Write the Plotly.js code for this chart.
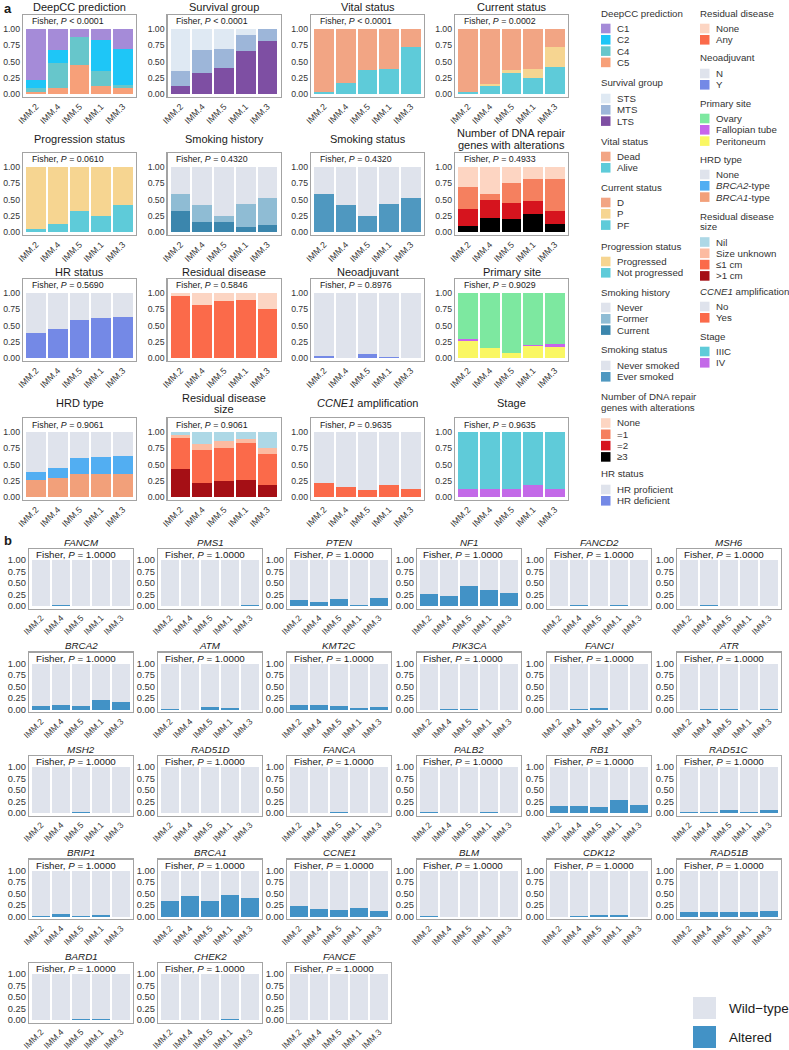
<!DOCTYPE html>
<html><head><meta charset="utf-8">
<script src="https://cdn.plot.ly/plotly-3.0.1.min.js"></script>
<style>html,body{margin:0;padding:0;background:#fff}</style>
</head><body><div id="chart" style="width:789px;height:1050px"></div>
<script>
// ---------------- DATA ----------------
const clusters = ['IMM.2','IMM.4','IMM.5','IMM.1','IMM.3'];

// Panel a (values listed bottom -> top of each stack)
const deepccC5 = [0.03, 0.09, 0.44, 0.13, 0.10];
const deepccC4 = [0.055, 0.38, 0.44, 0.22, 0.04];
const deepccC2 = [0.135, 0.20, 0.00, 0.48, 0.55];
const deepccC1 = [0.78, 0.33, 0.12, 0.17, 0.31];

const survLTS = [0.13, 0.33, 0.405, 0.66, 0.82];
const survMTS = [0.22, 0.34, 0.285, 0.25, 0.18];
const survSTS = [0.65, 0.33, 0.31, 0.09, 0.00];

const vitalAlive = [0.03, 0.17, 0.37, 0.38, 0.73];
const vitalDead  = [0.97, 0.83, 0.63, 0.62, 0.27];

const currPF = [0.03, 0.12, 0.33, 0.25, 0.41];
const currP  = [0.00, 0.04, 0.04, 0.13, 0.32];
const currD  = [0.97, 0.84, 0.63, 0.62, 0.27];

const progNot = [0.05, 0.13, 0.33, 0.25, 0.41];
const progYes = [0.95, 0.87, 0.67, 0.75, 0.59];

const smokeHistCurrent = [0.33, 0.16, 0.15, 0.08, 0.11];
const smokeHistFormer  = [0.26, 0.26, 0.09, 0.35, 0.42];
const smokeHistNever   = [0.41, 0.58, 0.76, 0.57, 0.47];

const smokeEver  = [0.59, 0.42, 0.24, 0.43, 0.53];
const smokeNever = [0.41, 0.58, 0.76, 0.57, 0.47];

const dnaGe3  = [0.09, 0.21, 0.20, 0.28, 0.13];
const dnaEq2  = [0.26, 0.29, 0.24, 0.19, 0.19];
const dnaEq1  = [0.35, 0.09, 0.32, 0.34, 0.50];
const dnaNone = [0.30, 0.41, 0.24, 0.19, 0.18];

const hrDef  = [0.385, 0.45, 0.59, 0.615, 0.63];
const hrProf = [0.615, 0.55, 0.41, 0.385, 0.37];

const resAny  = [0.95, 0.82, 0.87, 0.90, 0.76];
const resNone = [0.05, 0.18, 0.13, 0.10, 0.24];

const neoY = [0.036, 0.00, 0.067, 0.02, 0.00];
const neoN = [0.964, 1.00, 0.933, 0.98, 1.00];

const sitePerit  = [0.26, 0.15, 0.07, 0.18, 0.175];
const siteFallop = [0.04, 0.00, 0.00, 0.025, 0.045];
const siteOvary  = [0.70, 0.85, 0.93, 0.795, 0.78];

const hrdBRCA1 = [0.26, 0.285, 0.35, 0.36, 0.35];
const hrdBRCA2 = [0.13, 0.165, 0.25, 0.26, 0.285];
const hrdNone  = [0.61, 0.55, 0.40, 0.38, 0.365];

const rsGt1     = [0.43, 0.215, 0.25, 0.26, 0.19];
const rsLe1     = [0.48, 0.515, 0.50, 0.57, 0.47];
const rsUnknown = [0.04, 0.09, 0.11, 0.07, 0.095];
const rsNil     = [0.05, 0.18, 0.14, 0.10, 0.245];

const ccneYes = [0.21, 0.16, 0.11, 0.18, 0.13];
const ccneNo  = [0.79, 0.84, 0.89, 0.82, 0.87];

const stageIV   = [0.12, 0.13, 0.12, 0.19, 0.13];
const stageIIIC = [0.88, 0.87, 0.88, 0.81, 0.87];

const panelATitles = ['DeepCC prediction','Survival group','Vital status','Current status',
  'Progression status','Smoking history','Smoking status','Number of DNA repair<br>genes with alterations',
  'HR status','Residual disease','Neoadjuvant','Primary site',
  'HRD type','Residual disease<br>size','<i>CCNE1</i> amplification','Stage'];
const panelAP = ['< 0.0001','< 0.0001','< 0.0001','= 0.0002',
  '= 0.0610','= 0.4320','= 0.4320','= 0.4933',
  '= 0.5690','= 0.5846','= 0.8976','= 0.9029',
  '= 0.9061','= 0.9061','= 0.9635','= 0.9635'];

// Panel b: altered fraction per gene
const geneNames = ['FANCM','PMS1','PTEN','NF1','FANCD2','MSH6',
  'BRCA2','ATM','KMT2C','PIK3CA','FANCI','ATR',
  'MSH2','RAD51D','FANCA','PALB2','RB1','RAD51C',
  'BRIP1','BRCA1','CCNE1','BLM','CDK12','RAD51B',
  'BARD1','CHEK2','FANCE'];
const altFANCM  = [0.00, 0.03, 0.00, 0.00, 0.00];
const altPMS1   = [0.00, 0.00, 0.00, 0.00, 0.02];
const altPTEN   = [0.12, 0.08, 0.15, 0.03, 0.17];
const altNF1    = [0.27, 0.22, 0.44, 0.34, 0.28];
const altFANCD2 = [0.00, 0.02, 0.00, 0.03, 0.00];
const altMSH6   = [0.00, 0.02, 0.00, 0.00, 0.00];
const altBRCA2  = [0.07, 0.10, 0.08, 0.21, 0.17];
const altATM    = [0.02, 0.00, 0.06, 0.04, 0.00];
const altKMT2C  = [0.09, 0.09, 0.08, 0.03, 0.06];
const altPIK3CA = [0.00, 0.02, 0.02, 0.00, 0.00];
const altFANCI  = [0.00, 0.02, 0.03, 0.00, 0.00];
const altATR    = [0.00, 0.02, 0.02, 0.00, 0.02];
const altMSH2   = [0.00, 0.00, 0.03, 0.00, 0.00];
const altRAD51D = [0.00, 0.00, 0.00, 0.00, 0.00];
const altFANCA  = [0.00, 0.00, 0.02, 0.00, 0.00];
const altPALB2  = [0.02, 0.00, 0.00, 0.03, 0.00];
const altRB1    = [0.16, 0.15, 0.14, 0.28, 0.17];
const altRAD51C = [0.02, 0.02, 0.06, 0.03, 0.07];
const altBRIP1  = [0.02, 0.06, 0.02, 0.03, 0.00];
const altBRCA1  = [0.33, 0.45, 0.34, 0.46, 0.40];
const altCCNE1  = [0.22, 0.17, 0.14, 0.18, 0.13];
const altBLM    = [0.02, 0.00, 0.00, 0.00, 0.00];
const altCDK12  = [0.00, 0.02, 0.03, 0.03, 0.00];
const altRAD51B = [0.09, 0.10, 0.10, 0.10, 0.11];
const altBARD1  = [0.00, 0.00, 0.02, 0.02, 0.00];
const altCHEK2  = [0.00, 0.00, 0.00, 0.02, 0.00];
const altFANCE  = [0.00, 0.00, 0.00, 0.00, 0.00];
const geneAltered = [altFANCM,altPMS1,altPTEN,altNF1,altFANCD2,altMSH6,
  altBRCA2,altATM,altKMT2C,altPIK3CA,altFANCI,altATR,
  altMSH2,altRAD51D,altFANCA,altPALB2,altRB1,altRAD51C,
  altBRIP1,altBRCA1,altCCNE1,altBLM,altCDK12,altRAD51B,
  altBARD1,altCHEK2,altFANCE];

// ---------------- STYLE ----------------
const FONT = 'Liberation Sans, Arial, Helvetica, sans-serif';
const GREY = '#dfe3ec';
const COL = {
  C1:'#a58bd8', C2:'#1ec6f7', C4:'#67c6cb', C5:'#f7a079',
  STS:'#dfe9f3', MTS:'#9db6d9', LTS:'#7e4fa3',
  dead:'#f2a584', alive:'#5ecbd9', prog:'#f6d591', P:'#f6d591',
  former:'#8fbcd4', current:'#3b86ad', ever:'#4f98c0',
  dnaNone:'#fdd5c2', dna1:'#f5805f', dna2:'#d6141e', dna3:'#000000',
  hrDef:'#7489e6', resNone:'#fcd5c3', resAny:'#fb6a4a',
  ovary:'#7de8a0', fallop:'#c764eb', perit:'#faf763',
  brca2:'#52aef2', brca1:'#f2a07a',
  nil:'#add8e6', unknown:'#fcbba1', le1:'#fb6a4a', gt1:'#a50f15',
  IIIC:'#5fcbd9', IV:'#c36ae8', altered:'#4292c6'
};

const panelASeries = [
  [[deepccC5,'C5',COL.C5],[deepccC4,'C4',COL.C4],[deepccC2,'C2',COL.C2],[deepccC1,'C1',COL.C1]],
  [[survLTS,'LTS',COL.LTS],[survMTS,'MTS',COL.MTS],[survSTS,'STS',COL.STS]],
  [[vitalAlive,'Alive',COL.alive],[vitalDead,'Dead',COL.dead]],
  [[currPF,'PF',COL.alive],[currP,'P',COL.P],[currD,'D',COL.dead]],
  [[progNot,'Not progressed',COL.alive],[progYes,'Progressed',COL.prog]],
  [[smokeHistCurrent,'Current',COL.current],[smokeHistFormer,'Former',COL.former],[smokeHistNever,'Never',GREY]],
  [[smokeEver,'Ever smoked',COL.ever],[smokeNever,'Never smoked',GREY]],
  [[dnaGe3,'≥3',COL.dna3],[dnaEq2,'=2',COL.dna2],[dnaEq1,'=1',COL.dna1],[dnaNone,'None',COL.dnaNone]],
  [[hrDef,'HR deficient',COL.hrDef],[hrProf,'HR proficient',GREY]],
  [[resAny,'Any',COL.resAny],[resNone,'None',COL.resNone]],
  [[neoY,'Y',COL.hrDef],[neoN,'N',GREY]],
  [[sitePerit,'Peritoneum',COL.perit],[siteFallop,'Fallopian tube',COL.fallop],[siteOvary,'Ovary',COL.ovary]],
  [[hrdBRCA1,'BRCA1-type',COL.brca1],[hrdBRCA2,'BRCA2-type',COL.brca2],[hrdNone,'None',GREY]],
  [[rsGt1,'>1 cm',COL.gt1],[rsLe1,'≤1 cm',COL.le1],[rsUnknown,'Size unknown',COL.unknown],[rsNil,'Nil',COL.nil]],
  [[ccneYes,'Yes',COL.resAny],[ccneNo,'No',GREY]],
  [[stageIV,'IV',COL.IV],[stageIIIC,'IIIC',COL.IIIC]]
];

// ---------------- LAYOUT HELPERS ----------------
const W = 789, H = 1050;
const px = x => x / W;
const py = y => 1 - y / H;
const data = [];
const layout = {
  width: W, height: H, margin: {l:0, r:0, t:0, b:0},
  paper_bgcolor:'#fff', plot_bgcolor:'#fff',
  barmode:'stack', bargap:0.1, showlegend:false,
  font:{family:FONT, color:'#333'},
  annotations:[], shapes:[]
};
let axN = 0;
function addPanel(x0, w, oneY, unit, padTop, padBot, series, tickSize, xTickSize) {
  axN++;
  const xk = axN === 1 ? 'xaxis' : 'xaxis' + axN;
  const yk = axN === 1 ? 'yaxis' : 'yaxis' + axN;
  const xa = axN === 1 ? 'x' : 'x' + axN;
  const ya = axN === 1 ? 'y' : 'y' + axN;
  const top = oneY - padTop, bot = oneY + unit + padBot;
  series.forEach(s => data.push({
    type:'bar', x:clusters, y:s[0], name:s[1], xaxis:xa, yaxis:ya,
    marker:{color:s[2], line:{width:0}}, hoverinfo:'skip'
  }));
  const common = {showline:true, mirror:true, linecolor:'#a3a3a3', linewidth:1.2,
    showgrid:false, zeroline:false, fixedrange:true, ticks:''};
  layout[xk] = Object.assign({}, common, {
    domain:[px(x0), px(x0 + w)], anchor:ya, type:'category', range:[-0.6, 4.6],
    tickangle:-45, tickfont:{size:xTickSize, color:'#333', family:FONT}
  });
  layout[yk] = Object.assign({}, common, {
    domain:[py(bot), py(top)], anchor:xa,
    range:[-padBot / unit, 1 + padTop / unit],
    tickvals:[0, 0.25, 0.5, 0.75, 1], ticktext:['0.00','0.25','0.50','0.75','1.00'],
    tickfont:{size:tickSize, color:'#333', family:FONT}
  });
  return {top, bot};
}
function txt(x, y, text, size, opts) {
  layout.annotations.push(Object.assign({
    xref:'paper', yref:'paper', x:px(x), y:py(y), text, showarrow:false,
    xanchor:'center', yanchor:'middle', font:{size, family:FONT, color:'#1a1a1a'}
  }, opts || {}));
}

// ---------------- PANEL A ----------------
const aLeft = [23, 167.5, 311, 455], aW = 113;
const aOneY = [29, 167, 293, 432];
const aTitleY = [7, 139, 272, 403];
panelASeries.forEach((series, i) => {
  const r = Math.floor(i / 4), c = i % 4;
  const g = addPanel(aLeft[c], aW, aOneY[r], 65, 14, 3, series, 8.7, 8.7);
  const t = panelATitles[i];
  const cx = aLeft[c] + aW / 2;
  if (t.includes('<br>')) {
    const parts = t.split('<br>');
    txt(cx, aTitleY[r] - 5.5, parts[0], 11);
    txt(cx, aTitleY[r] + 5.5, parts[1], 11);
  } else {
    txt(cx, aTitleY[r], t, 11);
  }
  txt(aLeft[c] + 6.5, g.top + 6.5, 'Fisher, <i>P</i> ' + panelAP[i], 8.8, {xanchor:'left', font:{size:8.8, family:FONT, color:'#1a1a1a'}});
});
txt(2, 8, '<b>a</b>', 13, {xanchor:'left'});

// ---------------- LEGEND (panel a) ----------------
const legendLeft = [
  {t:'DeepCC prediction', y:13, items:[['C1',COL.C1],['C2',COL.C2],['C4',COL.C4],['C5',COL.C5]]},
  {t:'Survival group', y:83, items:[['STS',COL.STS],['MTS',COL.MTS],['LTS',COL.LTS]]},
  {t:'Vital status', y:141, items:[['Dead',COL.dead],['Alive',COL.alive]]},
  {t:'Current status', y:187, items:[['D',COL.dead],['P',COL.P],['PF',COL.alive]]},
  {t:'Progression status', y:246, items:[['Progressed',COL.prog],['Not progressed',COL.alive]]},
  {t:'Smoking history', y:292, items:[['Never',GREY],['Former',COL.former],['Current',COL.current]]},
  {t:'Smoking status', y:350, items:[['Never smoked',GREY],['Ever smoked',COL.ever]]},
  {t:'Number of DNA repair<br>genes with alterations', y:397, items:[['None',COL.dnaNone],['=1',COL.dna1],['=2',COL.dna2],['≥3',COL.dna3]]},
  {t:'HR status', y:474, items:[['HR proficient',GREY],['HR deficient',COL.hrDef]]}
];
const legendRight = [
  {t:'Residual disease', y:13, items:[['None',COL.resNone],['Any',COL.resAny]]},
  {t:'Neoadjuvant', y:58, items:[['N',GREY],['Y',COL.hrDef]]},
  {t:'Primary site', y:103, items:[['Ovary',COL.ovary],['Fallopian tube',COL.fallop],['Peritoneum',COL.perit]]},
  {t:'HRD type', y:159, items:[['None',GREY],['<i>BRCA2</i>-type',COL.brca2],['<i>BRCA1</i>-type',COL.brca1]]},
  {t:'Residual disease<br>size', y:216, items:[['Nil',COL.nil],['Size unknown',COL.unknown],['≤1 cm',COL.le1],['>1 cm',COL.gt1]]},
  {t:'<i>CCNE1</i> amplification', y:291, items:[['No',GREY],['Yes',COL.resAny]]},
  {t:'Stage', y:336, items:[['IIIC',COL.IIIC],['IV',COL.IV]]}
];
function drawLegend(groups, x0) {
  groups.forEach(g => {
    const lines = g.t.split('<br>');
    lines.forEach((l, k) => txt(x0, g.y + k * 10.5, l, 9.7, {xanchor:'left', font:{size:9.7, family:FONT, color:'#333'}}));
    const y = g.y + (lines.length - 1) * 10.5 + 15.5;
    g.items.forEach((it, k) => {
      const yy = y + k * 11.3;
      layout.shapes.push({type:'rect', xref:'paper', yref:'paper', x0:px(x0 + 2), x1:px(x0 + 11.5),
        y0:py(yy + 4.8), y1:py(yy - 4.8), fillcolor:it[1], line:{width:0}});
      txt(x0 + 16, yy, it[0], 9.7, {xanchor:'left', font:{size:9.7, family:FONT, color:'#333'}});
    });
  });
}
drawLegend(legendLeft, 599);
drawLegend(legendRight, 698);

// ---------------- PANEL B ----------------
const bLeft = [29, 158, 287, 417, 547, 677], bW = 104;
const bUnit = 46, bPitch = 103.5;
geneNames.forEach((gname, i) => {
  const r = Math.floor(i / 6), c = i % 6;
  const alt = geneAltered[i];
  const wt = alt.map(v => 1 - v);
  const g = addPanel(bLeft[c], bW, 560 + r * bPitch, bUnit, 11, 2.5,
    [[alt, 'Altered', COL.altered], [wt, 'Wild-type', GREY]], 9.3, 8.5);
  txt(bLeft[c] + bW / 2, g.top - 7, '<i>' + gname + '</i>', 9.8);
  txt(bLeft[c] + 4.5, g.top + 5.5, 'Fisher, <i>P</i> = 1.0000', 9.8, {xanchor:'left', font:{size:9.8, family:FONT, color:'#1a1a1a'}});
});
txt(2, 540, '<b>b</b>', 13, {xanchor:'left'});

// legend panel b
[['Wild−type', GREY, 1008], ['Altered', COL.altered, 1037]].forEach(it => {
  layout.shapes.push({type:'rect', xref:'paper', yref:'paper', x0:px(693), x1:px(716),
    y0:py(it[2] + 11), y1:py(it[2] - 11), fillcolor:it[1], line:{width:0}});
  txt(727, it[2], it[0], 13.5, {xanchor:'left', font:{size:13.5, family:FONT, color:'#1a1a1a'}});
});

Plotly.newPlot('chart', data, layout, {staticPlot:true, displayModeBar:false});
</script></body></html>
